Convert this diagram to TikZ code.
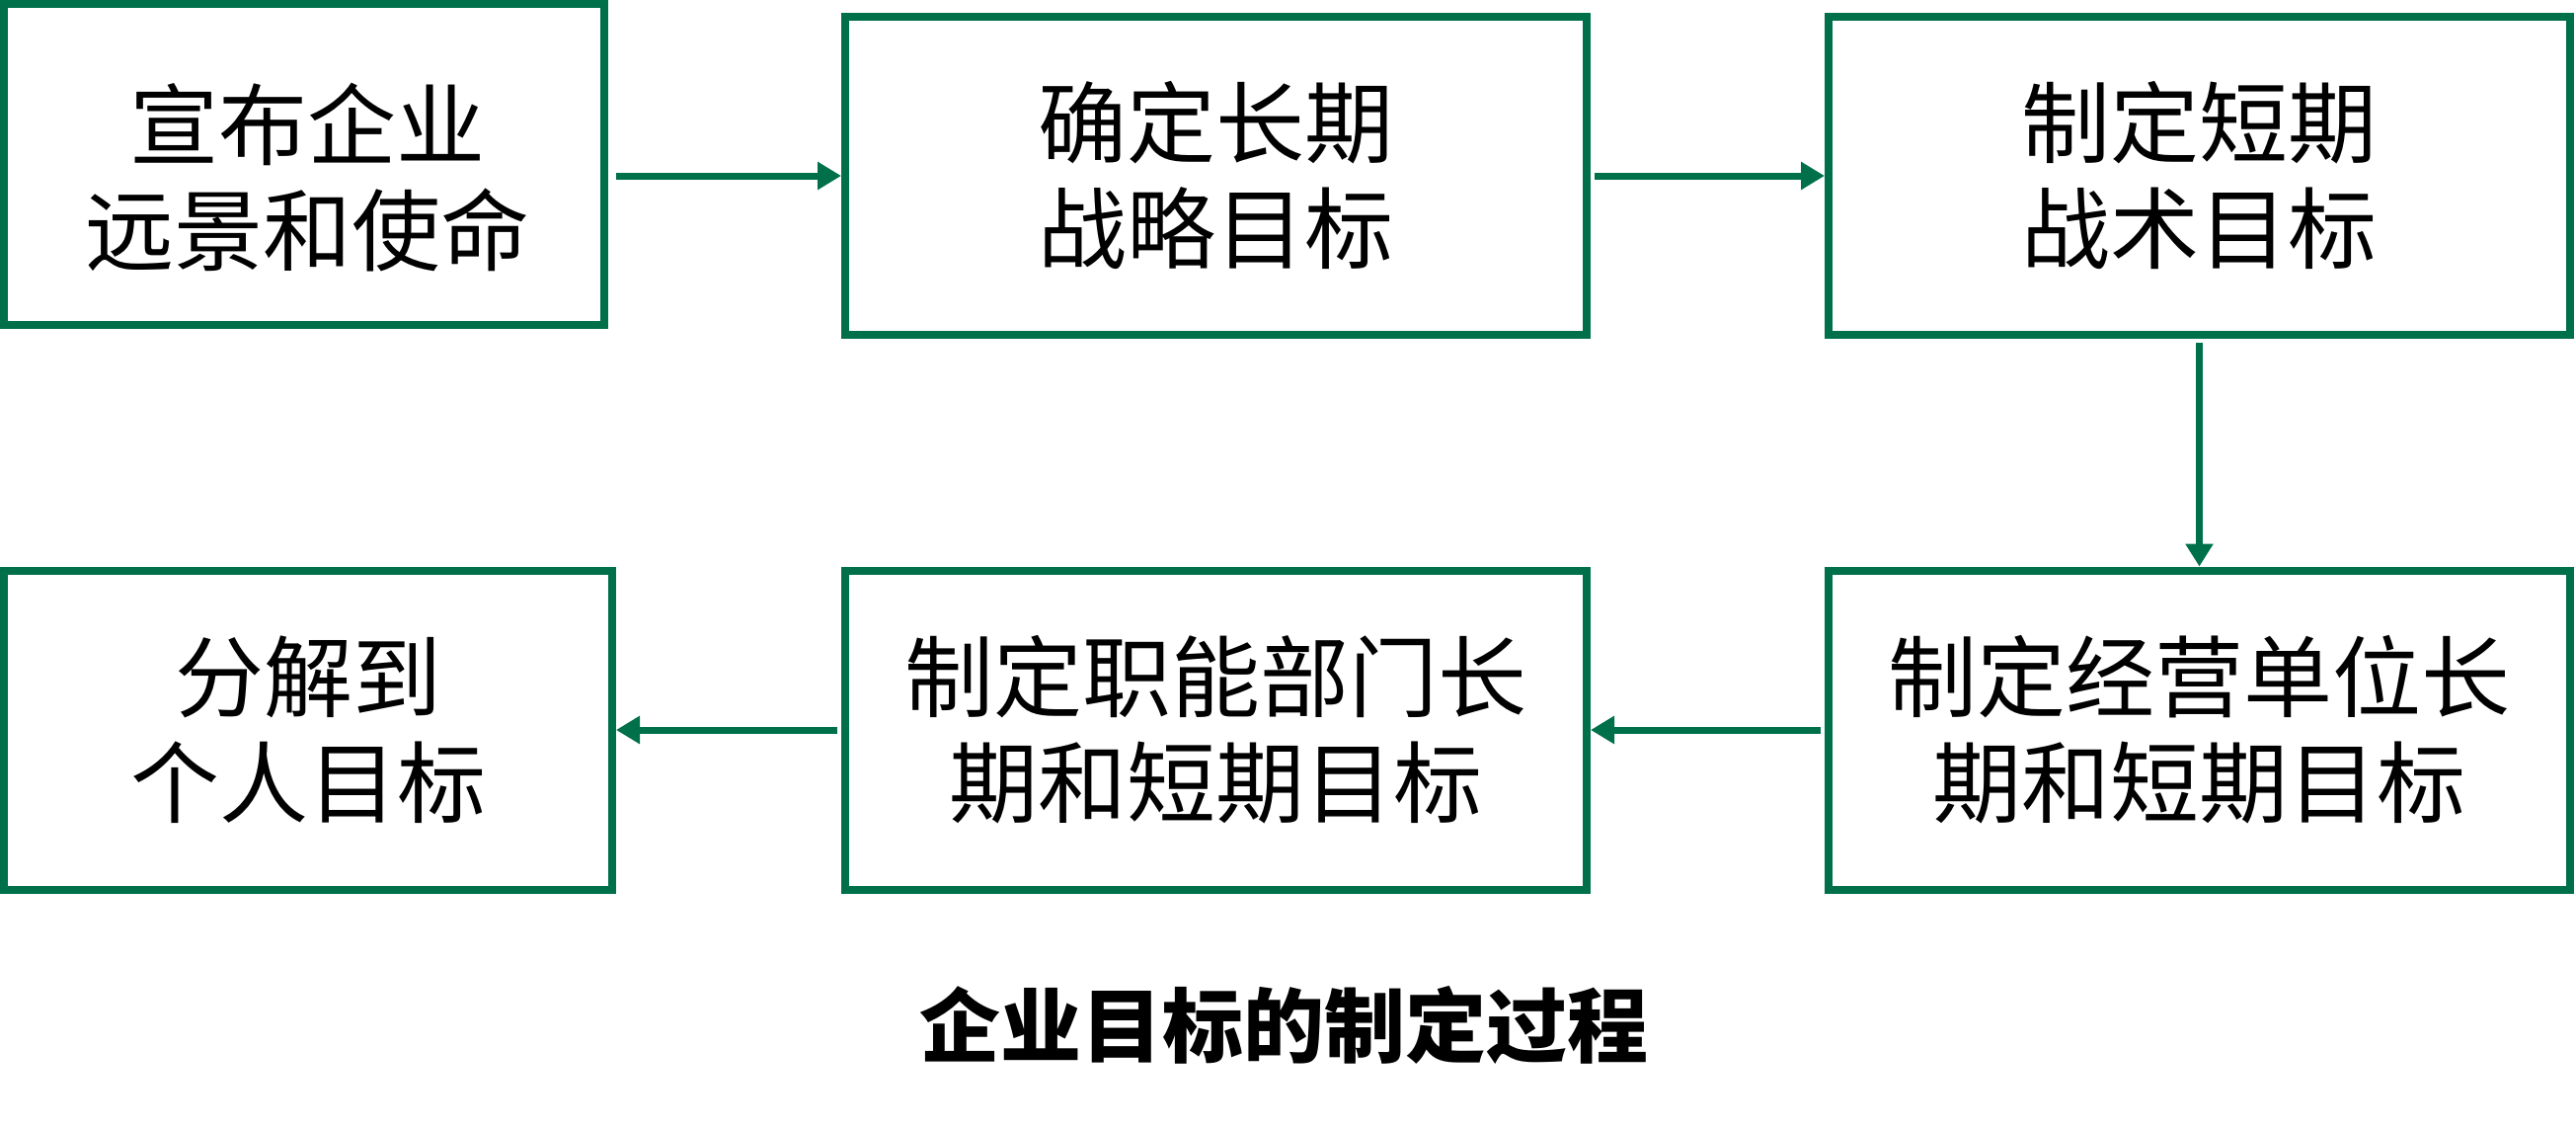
\documentclass[tikz,border=0pt]{standalone}
\usepackage{fontspec}
\newfontfamily\cjk{Noto Sans CJK SC}
\usetikzlibrary{arrows.meta}
\definecolor{boxgreen}{HTML}{00704A}
\tikzset{
  stepbox/.style={draw=boxgreen, line width=8pt, inner sep=0pt, align=center,
    font={\cjk\fontsize{90}{107}\selectfont}},
  flow/.style={draw=boxgreen, line width=7pt, -{Triangle[length=24pt,width=27pt]}},
  flowv/.style={draw=boxgreen, line width=7pt, -{Triangle[length=23pt,width=27pt]}},
}
\begin{document}
\begin{tikzpicture}[x=1pt,y=-1pt]
\useasboundingbox (0,0) rectangle (2609,1141);
\node[stepbox, minimum width=608pt, minimum height=325pt] (b1) at (308,166.5) {};
\node[font={\cjk\fontsize{90}{107}\selectfont}, align=center, inner sep=0pt] (t1) at (311,180) {宣布企业\\远景和使命};
\node[stepbox, minimum width=751pt, minimum height=322pt] (b2) at (1231.5,178) {确定长期\\战略目标};
\node[stepbox, minimum width=751pt, minimum height=322pt] (b3) at (2227.5,178) {制定短期\\战术目标};
\node[stepbox, minimum width=751pt, minimum height=323pt] (b4) at (2227.5,739) {制定经营单位长\\期和短期目标};
\node[stepbox, minimum width=751pt, minimum height=323pt] (b5) at (1231.5,739) {制定职能部门长\\期和短期目标};
\node[stepbox, minimum width=616pt, minimum height=323pt] (b6) at (312,739) {分解到\\个人目标};
\node[font={\cjk\bfseries\fontsize{82}{90}\selectfont}, inner sep=0pt] (title) at (1300,1038) {企业目标的制定过程};
\draw[flow, shorten <=8pt] (b1.east |- b2.west) -- (b2.west);
\draw[flow, shorten <=4pt] (b2.east) -- (b3.west);
\draw[flowv, shorten <=4pt] (b3.south) -- (b4.north);
\draw[flow, shorten <=4pt] (b4.west) -- (b5.east);
\draw[flow, shorten <=4pt] (b5.west) -- (b6.east);
\end{tikzpicture}
\end{document}
